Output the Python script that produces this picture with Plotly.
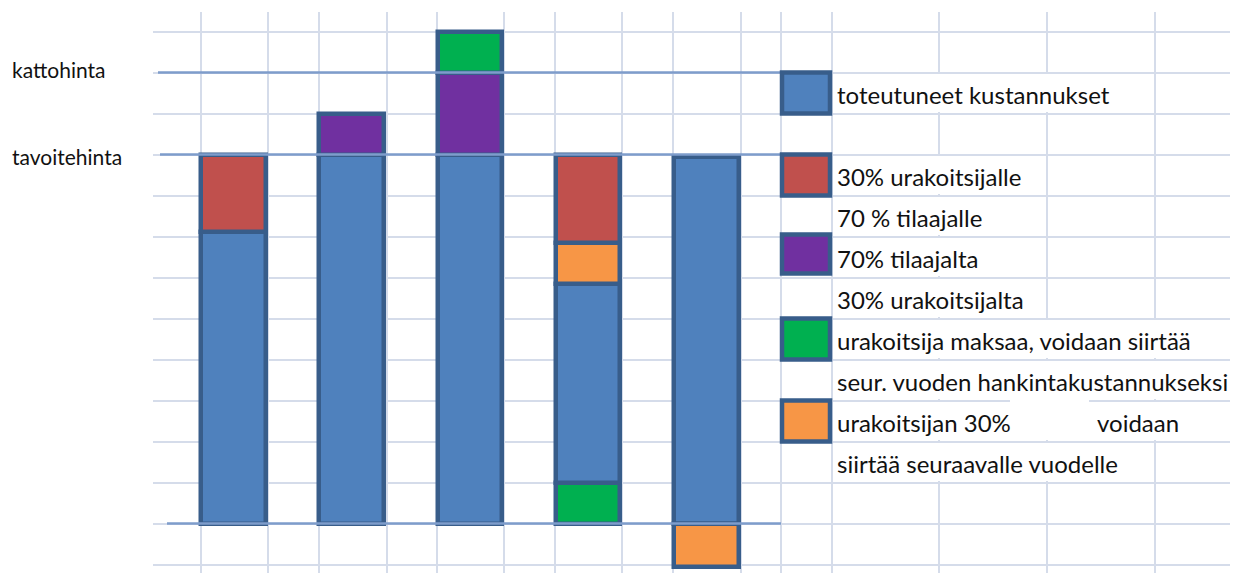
import plotly.graph_objects as go

# ---------------- data ----------------
categories = [1, 2, 3, 4, 5]
toteutuneet = [7.1, 9.0, 9.0, 4.85, 8.95]                 # blue: realised costs
urakoitsija_maksaa_pohja = [None, None, None, 1.0, None]  # green under bar 4
urakoitsijan_30 = [None, None, None, 1.0, -1.05]          # orange
urakoitsijalle_30 = [1.9, None, None, 2.15, None]         # red
tilaajalta_70 = [None, 1.0, 2.0, None, None]              # purple
urakoitsija_maksaa = [None, None, 1.0, None, None]        # green on top of bar 3

ref_names = ["kattohinta", "tavoitehinta"]
ref_values = [11, 9]
baseline_value = 0

legend_labels = [
    "toteutuneet kustannukset", "30% urakoitsijalle", "70 % tilaajalle",
    "70% tilaajalta", "30% urakoitsijalta", "urakoitsija maksaa, voidaan siirtää",
    "seur. vuoden hankintakustannukseksi", "urakoitsijan 30%", "siirtää seuraavalle vuodelle",
]
legend_extra = "voidaan"

# ---------------- styling / layout ----------------
VW, VH = 1238, 573          # browser viewport
OFF = 8                     # default page body margin
W, H = VW - OFF, VH - OFF
L_SCR, T_SCR = 153, 12      # plot-area origin on screen
BLUE, RED, PURPLE, GREEN, ORANGE = "#4F81BD", "#C0504D", "#7030A0", "#00B050", "#F79646"
OUTLINE = "#385D8A"
GRID = "#D5DCEA"
REFLINE = "#7E9DCB"
FONT = "Lato"
TXT = "#111111"


def px_x(px):  # screen px -> data x
    return (px - 233.5) / 118.2 + 1


def px_y(py):  # screen px -> data y
    return (523.5 - py) / 41.0


grid_x_px = [201, 268, 319, 387, 437, 504, 555, 622, 673, 741, 781, 832, 939, 1047, 1155]
grid_x = [px_x(p) for p in grid_x_px]
grid_y = list(range(-1, 13))

fig = go.Figure()

bar_w = 0.545
line = dict(color=OUTLINE, width=4.5)
series = [
    (urakoitsija_maksaa_pohja, GREEN),
    (toteutuneet, BLUE),
    (urakoitsijan_30, ORANGE),
    (urakoitsijalle_30, RED),
    (tilaajalta_70, PURPLE),
    (urakoitsija_maksaa, GREEN),
]
for vals, col in series:
    fig.add_trace(go.Bar(x=categories, y=vals, width=bar_w,
                         marker=dict(color=col, line=line),
                         showlegend=False, hoverinfo="skip"))

# reference lines (katto, tavoite, baseline)
ref_x = {11: (px_x(158), px_x(781)), 9: (px_x(160), px_x(781)), 0: (px_x(167), px_x(781))}
for v in ref_values + [baseline_value]:
    x0, x1 = ref_x[v]
    fig.add_trace(go.Scatter(x=[x0, x1], y=[v, v], mode="lines",
                             line=dict(color=REFLINE, width=2.5),
                             showlegend=False, hoverinfo="skip"))

# left labels
for name, v, dy in zip(ref_names, ref_values, [0.07, -0.06]):
    fig.add_annotation(xref="paper", yref="y", x=(10 - L_SCR) / (VW - L_SCR), y=v + dy,
                       xanchor="left", yanchor="middle", showarrow=False,
                       text=name, font=dict(family=FONT, size=21, color=TXT))

# merged-cell masks (hide gridlines inside the legend text cells)
ex, ey = 1.6 / 118.2, 1.6 / 41.0
merged = [
    (832, 1155, 10), (832, 1047, 8), (832, 1047, 7), (832, 1047, 6), (832, 1047, 5),
    (832, 1300, 4), (832, 1300, 3), (832, 1300, 2), (832, 1155, 1),
]
for a, b, r in merged:
    fig.add_shape(type="rect", xref="x", yref="y", x0=px_x(a) + ex, x1=px_x(b) - ex,
                  y0=r + ey, y1=r + 1 - ey, fillcolor="white", line=dict(width=0),
                  layer="between")
fig.add_shape(type="rect", xref="x", yref="y", x0=px_x(1010), x1=px_x(1089),
              y0=3 - ey, y1=3 + ey, fillcolor="white", line=dict(width=0), layer="between")

# legend swatches
swatches = [(BLUE, 10, 11), (RED, 8, 9), (PURPLE, 6.1, 7.05), (GREEN, 4, 5), (ORANGE, 2, 3)]
for col, y0, y1 in swatches:
    fig.add_shape(type="rect", xref="x", yref="y", x0=px_x(782), x1=px_x(830),
                  y0=y0, y1=y1, fillcolor=col, line=dict(color=OUTLINE, width=4.5),
                  layer="above")

legend_rows = [10, 8, 7, 6, 5, 4, 3, 2, 1]
for lab, r in zip(legend_labels, legend_rows):
    fig.add_annotation(xref="x", yref="y", x=px_x(835), y=r + 0.5 - 0.04,
                       xanchor="left", yanchor="middle", showarrow=False,
                       text=lab, font=dict(family=FONT, size=24, color=TXT))
fig.add_annotation(xref="x", yref="y", x=px_x(1095), y=2 + 0.5 - 0.04,
                   xanchor="left", yanchor="middle", showarrow=False,
                   text=legend_extra, font=dict(family=FONT, size=24, color=TXT))

fig.update_layout(
    width=W, height=H, autosize=False,
    margin=dict(l=L_SCR - OFF, r=0, t=T_SCR - OFF, b=0, pad=0),
    paper_bgcolor="white", plot_bgcolor="white",
    barmode="relative", bargap=0,
    showlegend=False,
    xaxis=dict(range=[px_x(L_SCR), px_x(VW)], tickvals=grid_x, showticklabels=False,
               ticks="", showgrid=True, gridcolor=GRID, gridwidth=1.5,
               zeroline=False, showline=False, fixedrange=True),
    yaxis=dict(range=[px_y(VH), px_y(T_SCR)], tickvals=grid_y, showticklabels=False,
               ticks="", showgrid=True, gridcolor=GRID, gridwidth=1.5,
               zeroline=False, showline=False, fixedrange=True),
)

fig.write_html("out.html")
